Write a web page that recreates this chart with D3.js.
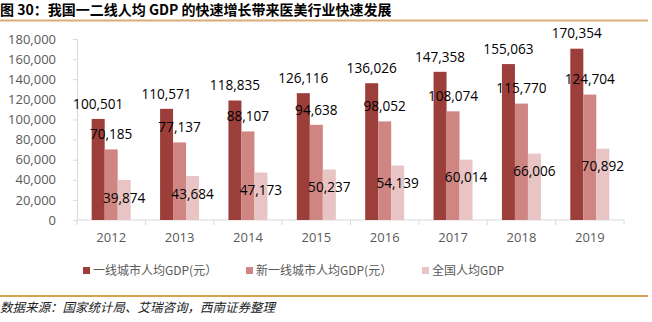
<!DOCTYPE html>
<html><head><meta charset="utf-8">
<script src="https://cdn.jsdelivr.net/npm/d3@7"></script>
<style>
body{margin:0;background:#fff;}
svg{display:block;}
</style></head>
<body>
<svg id="c" width="652" height="322"></svg>
<script>
const years = ["2012","2013","2014","2015","2016","2017","2018","2019"];
const tier1 = [100501,110571,118835,126116,136026,147358,155063,170354];
const newTier1 = [70185,77137,88107,94638,98052,108074,115770,124704];
const national = [39874,43684,47173,50237,54139,60014,66006,70892];
const seriesNames = ["一线城市人均GDP(元）","新一线城市人均GDP(元）","全国人均GDP"];
const colors = ["#9c3f3b","#cf8582","#e8c4c5"];
const yTicks = [0,20000,40000,60000,80000,100000,120000,140000,160000,180000];
const title = "图 30：我国一二线人均 GDP 的快速增长带来医美行业快速发展";
const source = "数据来源：国家统计局、艾瑞咨询，西南证券整理";

const series = [tier1, newTier1, national];
const svg = d3.select("#c");
const numFont = "'Open Sans', 'Liberation Sans', sans-serif";
const cjkFont = "'Noto Sans CJK SC', sans-serif";

// title
svg.append("text").attr("x",0).attr("y",15)
  .attr("font-family",cjkFont).attr("font-weight","bold").attr("font-size",14)
  .attr("fill","#000").text(title);
svg.append("line").attr("x1",0).attr("x2",648).attr("y1",20.5).attr("y2",20.5)
  .attr("stroke","#d9ae74").attr("stroke-width",2);

const x = d3.scaleBand().domain(years).range([77,624]).paddingInner(0).paddingOuter(0);
const y = d3.scaleLinear().domain([0,180000]).range([220,39]);
const groupW = 39;
const xs = d3.scaleBand().domain([0,1,2]).range([0,groupW]);

// y axis
const yAxis = d3.axisLeft(y).tickValues(yTicks).tickSize(4).tickPadding(17)
  .tickFormat(d3.format(","));
const gy = svg.append("g").attr("transform","translate(77,0)").call(yAxis);
gy.select(".domain").attr("stroke","#d9d9d9");
gy.selectAll(".tick line").attr("stroke","#d9d9d9");
gy.selectAll("text").attr("font-family",numFont).attr("font-size",13).attr("fill","#595959");

// x axis
const gx = svg.append("g").attr("transform","translate(0,220)")
  .call(d3.axisBottom(x).tickSize(0).tickPadding(13));
gx.select(".domain").attr("stroke","#d9d9d9").attr("d","M77,0H624");
gx.selectAll("text").attr("font-family",numFont).attr("font-size",13).attr("fill","#595959");
const bounds = years.map(d=>x(d)).concat([x(years[years.length-1])+x.bandwidth()]);
svg.append("g").selectAll("line").data(bounds).join("line")
  .attr("x1",d=>d).attr("x2",d=>d).attr("y1",220).attr("y2",225)
  .attr("stroke","#d9d9d9");

// bars
series.forEach((vals,si)=>{
  const g = svg.append("g");
  g.selectAll("rect").data(vals).join("rect")
    .attr("x",(d,i)=>x(years[i]) + (x.bandwidth()-groupW)/2 + xs(si))
    .attr("width",xs.bandwidth())
    .attr("y",d=>y(d)).attr("height",d=>220-y(d))
    .attr("fill",colors[si]);
  g.selectAll("text").data(vals).join("text")
    .attr("x",(d,i)=>x(years[i]) + (x.bandwidth()-groupW)/2 + xs(si) + xs.bandwidth()/2)
    .attr("y",d=> si<2 ? y(d)-15 : y(d)+18)
    .attr("dy","0.35em")
    .attr("text-anchor","middle")
    .attr("font-family",numFont).attr("font-size",13.6).attr("fill","#000")
    .text(d=>d3.format(",")(d));
});

// legend
const legX = [83, 246, 422];
seriesNames.forEach((n,i)=>{
  svg.append("rect").attr("x",legX[i]).attr("y",267).attr("width",7).attr("height",7).attr("fill",colors[i]);
  svg.append("text").attr("x",legX[i]+10).attr("y",271).attr("dy","0.35em")
    .attr("font-family",cjkFont).attr("font-size",12).attr("fill","#595959").text(n);
});

// footer
svg.append("line").attr("x1",0).attr("x2",648).attr("y1",296).attr("y2",296)
  .attr("stroke","#d6a252").attr("stroke-width",2);
svg.append("text").attr("x",0).attr("y",312)
  .attr("font-family",cjkFont).attr("font-size",12.5).attr("font-style","italic")
  .attr("fill","#222").text(source);
</script>
</body></html>
